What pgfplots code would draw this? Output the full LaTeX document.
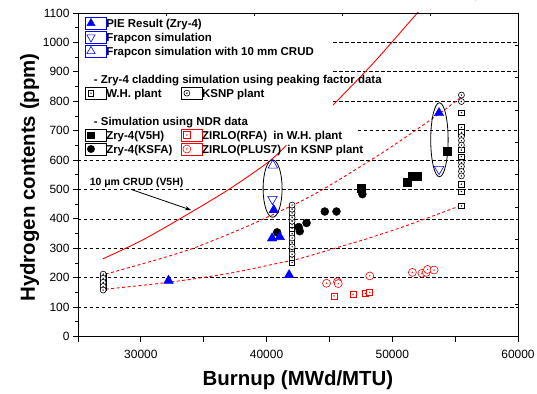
\documentclass[border=0pt]{standalone}
\usepackage{fontspec}
\setmainfont{Liberation Sans}
\usepackage{pgfplots}
\pgfplotsset{compat=1.18}
\usetikzlibrary{arrows.meta}

\pgfdeclareplotmark{sqdot}{%
  \pgfpathrectangle{\pgfpoint{-\pgfplotmarksize}{-\pgfplotmarksize}}{\pgfpoint{2\pgfplotmarksize}{2\pgfplotmarksize}}%
  \pgfusepathqfillstroke
  \pgfpathcircle{\pgfpointorigin}{0.35bp}%
  \pgfusepathqstroke}
\pgfdeclareplotmark{circdot}{%
  \pgfpathcircle{\pgfpointorigin}{\pgfplotmarksize}%
  \pgfusepathqfillstroke
  \pgfpathcircle{\pgfpointorigin}{0.35bp}%
  \pgfusepathqstroke}

\tikzset{grid dash/.style={black, line width=0.7bp, dash pattern=on 3.5bp off 2.5bp}}

\begin{document}
\begin{tikzpicture}
\begin{axis}[
  scale only axis, width=440bp, height=323.5bp,
  xmin=25000, xmax=60000, ymin=0, ymax=1100,
  axis line style={line width=0.8bp},
  xtick={30000,40000,50000,60000},
  extra x ticks={25000,35000,45000,55000}, extra x tick labels={},
  ytick={0,100,...,1100}, minor y tick num=1,
  xtick pos=left, ytick pos=left, tick align=outside,
  major tick length=5bp, minor tick length=3bp,
  tick style={black, line width=0.8bp},
  scaled x ticks=false,
  /pgf/number format/.cd, 1000 sep={}, assume math mode=true, /pgfplots/.cd,
  ticklabel style={font=\fontsize{12}{14}\selectfont},
  xticklabel style={yshift=-5bp},
  xlabel={Burnup (MWd/MTU)}, ylabel={Hydrogen contents (ppm)},
  label style={font=\fontsize{20.5}{24}\selectfont\bfseries},
  xlabel style={at={(axis description cs:0.5,-0.15147)}, anchor=base},
  ylabel style={at={(axis description cs:-0.09773,0.4915)}, anchor=base},
  legend columns=2,
  legend cell align=left,
  legend image code/.code={\path (-6bp,-6bp) rectangle (15bp,6bp); \draw[#1] plot coordinates {(0bp,0bp)};},
  legend style={draw=none, fill=none, inner sep=0pt, outer sep=0pt, row sep=0pt, column sep=0pt,
    at={(0.0152,0.9898)}, anchor=north west,
    font=\fontsize{11.5}{13}\selectfont\bfseries,
    nodes={inner sep=0pt, text height=11.1bp, text depth=2.87bp}},
]
% grid lines
\addplot[forget plot, grid dash] coordinates {(25000,100)(60000,100)};
\addplot[forget plot, grid dash] coordinates {(25000,200)(60000,200)};
\addplot[forget plot, grid dash] coordinates {(25000,300)(60000,300)};
\addplot[forget plot, grid dash] coordinates {(25000,400)(60000,400)};
\addplot[forget plot, grid dash] coordinates {(25000,500)(60000,500)};
\addplot[forget plot, grid dash] coordinates {(25000,600)(60000,600)};
\addplot[forget plot, grid dash] coordinates {(47250,700)(60000,700)};
\addplot[forget plot, grid dash] coordinates {(45300,800)(60000,800)};
\addplot[forget plot, grid dash] coordinates {(45300,900)(60000,900)};
\addplot[forget plot, grid dash] coordinates {(45300,1000)(60000,1000)};

% red curves
\addplot[forget plot, red, line width=0.9bp, smooth] coordinates {
 (26980,264) (30000,325) (32940,396) (36920,498) (40100,592) (41585,650)};
\addplot[forget plot, red, line width=0.9bp, smooth] coordinates {
 (45290,787) (48500,930) (51520,1077) (52300,1115)};
\addplot[forget plot, red, line width=0.9bp, dash pattern=on 3bp off 2.5bp, smooth] coordinates {
 (27200,212) (31500,264) (34160,300) (36920,347) (39060,386) (42640,458) (45030,514) (49540,634) (53720,757) (55500,815)};
\addplot[forget plot, red, line width=0.9bp, dash pattern=on 3bp off 2.5bp, smooth] coordinates {
 (27200,161) (32150,184) (36920,214) (40890,249) (42640,265) (46220,310) (47950,332) (51000,375) (55500,446)};

% simulation columns (W.H. squares, KSNP circles)
\addplot[forget plot, only marks, mark=sqdot, mark size=2.7bp, draw=black, fill=white, line width=0.6bp] coordinates {
 (27000,205) (27000,192) (27000,178) (27000,165)
 (42030,252) (42030,268) (42030,290) (42030,320) (42030,350) (42030,368) (42030,380) (42030,412) (42030,440)
 (55500,761) (55500,711) (55500,694) (55500,634) (55500,612) (55500,518) (55500,493) (55500,444)};
\addplot[forget plot, only marks, mark=circdot, mark size=3bp, draw=black, fill=white, line width=0.6bp] coordinates {
 (27000,212) (27000,198) (27000,184) (27000,170) (27000,158)
 (42030,280) (42030,305) (42030,335) (42030,392) (42030,405) (42030,420) (42030,433) (42030,447)
 (55500,821) (55500,799) (55500,680) (55500,666) (55500,651) (55500,591) (55500,578) (55500,561) (55500,546)};

% NDR data
\addplot[forget plot, only marks, mark=square*, mark size=4bp, black] coordinates {
 (47490,505) (51170,523) (51600,544) (51970,544) (54350,630)};
\addplot[forget plot, only marks, mark=*, mark size=4bp, black] coordinates {
 (40840,354) (42550,372) (42640,358) (43180,386) (44630,425) (45560,425) (47620,484)};
\addplot[forget plot, only marks, mark=sqdot, mark size=3bp, draw=red, fill=white, line width=0.6bp] coordinates {
 (45370,138) (46880,143) (47870,147) (48210,150)};
\addplot[forget plot, only marks, mark=circdot, mark size=4bp, draw=red, fill=white, line width=0.6bp] coordinates {
 (44770,181) (45640,186) (45700,180) (48210,206) (51600,218) (52360,215) (52700,218) (52800,228) (53320,226)};

% Frapcon
\addplot[forget plot, only marks, mark=triangle, mark size=5.5bp, draw=blue, fill=white, line width=0.6bp] coordinates {
 (40500,582)};
\addplot[forget plot, only marks, mark=triangle, mark size=5.5bp, draw=blue, fill=white, line width=0.6bp, mark options={rotate=180}] coordinates {
 (40470,467) (53720,569)};
% PIE
\addplot[forget plot, only marks, mark=triangle*, mark size=5.5bp, blue] coordinates {
 (32200,190) (40440,334) (41050,339) (40570,430) (41790,209) (53720,760)};

% ellipses, arrow, annotation
\draw[black, line width=0.8bp] (axis cs:40480,503) ellipse [x radius=9.5bp, y radius=28.7bp];
\draw[black, line width=0.8bp] (axis cs:53750,669) ellipse [x radius=8.7bp, y radius=37bp];
\draw[black, line width=0.8bp, -{Stealth[length=6bp,width=4bp]}] (axis cs:29230,500) -- (axis cs:34000,430);
\node[anchor=west, inner sep=0pt, font=\fontsize{10.5}{12}\selectfont\bfseries] at (axis cs:25920,523) {10 μm CRUD (V5H)};

% legend
\addlegendimage{mark=triangle*, mark size=4.8bp, blue}
\addlegendentry{\makebox[74.3bp][l]{PIE Result  (Zry-4)}}
\addlegendimage{empty legend}\addlegendentry{\mbox{}}
\addlegendimage{mark=triangle, mark size=4.8bp, draw=blue, fill=white, line width=0.6bp, mark options={rotate=180}}
\addlegendentry{\makebox[74.3bp][l]{Frapcon simulation}}
\addlegendimage{empty legend}\addlegendentry{\mbox{}}
\addlegendimage{mark=triangle, mark size=4.8bp, draw=blue, fill=white, line width=0.6bp}
\addlegendentry{\makebox[74.3bp][l]{Frapcon simulation with 10 mm CRUD}}
\addlegendimage{empty legend}\addlegendentry{\mbox{}}
\addlegendimage{empty legend}\addlegendentry{\mbox{}}
\addlegendimage{empty legend}\addlegendentry{\mbox{}}
\addlegendimage{empty legend}
\addlegendentry{\makebox[74.3bp][l]{\hspace*{-12.4bp}- Zry-4 cladding simulation using peaking factor data}}
\addlegendimage{empty legend}\addlegendentry{\mbox{}}
\addlegendimage{mark=sqdot, mark size=2.8bp, draw=black, fill=white, line width=0.6bp}
\addlegendentry{\makebox[74.3bp][l]{W.H. plant}}
\addlegendimage{mark=circdot, mark size=3bp, draw=black, fill=white, line width=0.6bp}
\addlegendentry{KSNP plant}
\addlegendimage{empty legend}\addlegendentry{\mbox{}}
\addlegendimage{empty legend}\addlegendentry{\mbox{}}
\addlegendimage{empty legend}
\addlegendentry{\makebox[74.3bp][l]{\hspace*{-12.4bp}- Simulation using NDR data}}
\addlegendimage{empty legend}\addlegendentry{\mbox{}}
\addlegendimage{mark=square*, mark size=3.3bp, black}
\addlegendentry{\makebox[74.3bp][l]{Zry-4(V5H)}}
\addlegendimage{mark=sqdot, mark size=3.3bp, draw=red, fill=white, line width=0.6bp}
\addlegendentry{ZIRLO(RFA)\ \ in W.H. plant}
\addlegendimage{mark=*, mark size=3.7bp, black}
\addlegendentry{\makebox[74.3bp][l]{Zry-4(KSFA)}}
\addlegendimage{mark=circdot, mark size=4bp, draw=red, fill=white, line width=0.6bp}
\addlegendentry{ZIRLO(PLUS7)\ \ in KSNP plant}
\end{axis}
% top and right axes with their own ticks
\begin{axis}[
  scale only axis, width=440bp, height=323.5bp,
  xmin=25000, xmax=60000, ymin=0, ymax=1100,
  axis x line*=top, axis y line*=right,
  axis line style={line width=0.8bp},
  xtick={32000,39000,46000,53000}, ytick={110,220,...,990},
  xticklabel=\empty, yticklabel=\empty,
  tick align=inside, major tick length=3bp,
  tick style={black, line width=0.8bp},
]
\addplot[draw=none, forget plot] coordinates {(25000,0)(60000,1100)};
\end{axis}
\pgfresetboundingbox
\path (-78bp,-57.5bp) rectangle (459bp,336.5bp);
\end{tikzpicture}
\end{document}
